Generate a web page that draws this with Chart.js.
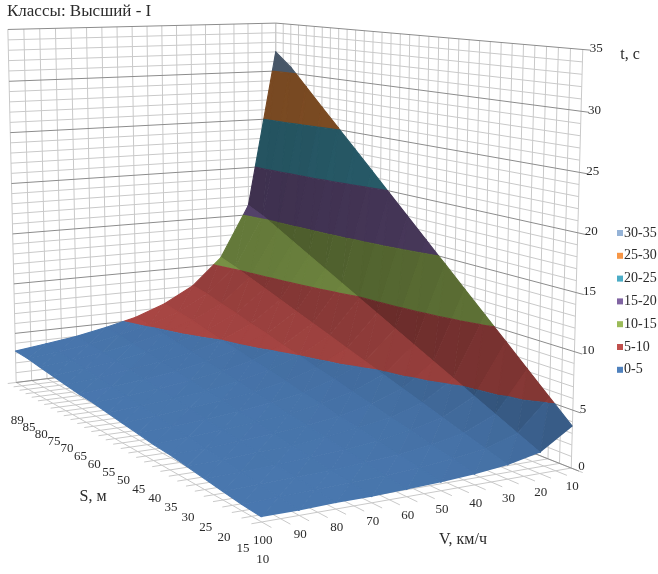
<!DOCTYPE html>
<html>
<head>
<meta charset="utf-8">
<script src="https://cdn.jsdelivr.net/npm/chart.js@4.4.1/dist/chart.umd.min.js"></script>
<style>
  html, body { margin: 0; padding: 0; background: #fff; }
  #wrap { width: 658px; height: 574px; }
</style>
</head>
<body>
<div id="wrap"><canvas id="surfaceChart" width="658" height="574"></canvas></div>
<script>
// S, м  (series, front to back)
const distances = [10, 15, 20, 25, 30, 35, 40, 45, 50, 55, 60, 65, 70, 75, 80, 85, 89];
// V, км/ч  (categories, front-left to right)
const speeds = [100, 90, 80, 70, 60, 50, 40, 30, 20, 10];
// t, с, one row per distance, columns follow speeds
const times = [
    [0.4, 0.4, 0.5, 0.5, 0.6, 0.7, 0.9, 1.2, 1.8, 3.6],
    [0.5, 0.6, 0.7, 0.8, 0.9, 1.1, 1.4, 1.8, 2.7, 5.4],
    [0.7, 0.8, 0.9, 1.0, 1.2, 1.4, 1.8, 2.4, 3.6, 7.2],
    [0.9, 1.0, 1.1, 1.3, 1.5, 1.8, 2.3, 3.0, 4.5, 9.0],
    [1.1, 1.2, 1.4, 1.5, 1.8, 2.2, 2.7, 3.6, 5.4, 10.8],
    [1.3, 1.4, 1.6, 1.8, 2.1, 2.5, 3.2, 4.2, 6.3, 12.6],
    [1.4, 1.6, 1.8, 2.1, 2.4, 2.9, 3.6, 4.8, 7.2, 14.4],
    [1.6, 1.8, 2.0, 2.3, 2.7, 3.2, 4.1, 5.4, 8.1, 16.2],
    [1.8, 2.0, 2.3, 2.6, 3.0, 3.6, 4.5, 6.0, 9.0, 18.0],
    [2.0, 2.2, 2.5, 2.8, 3.3, 4.0, 5.0, 6.6, 9.9, 19.8],
    [2.2, 2.4, 2.7, 3.1, 3.6, 4.3, 5.4, 7.2, 10.8, 21.6],
    [2.3, 2.6, 2.9, 3.3, 3.9, 4.7, 5.9, 7.8, 11.7, 23.4],
    [2.5, 2.8, 3.2, 3.6, 4.2, 5.0, 6.3, 8.4, 12.6, 25.2],
    [2.7, 3.0, 3.4, 3.9, 4.5, 5.4, 6.8, 9.0, 13.5, 27.0],
    [2.9, 3.2, 3.6, 4.1, 4.8, 5.8, 7.2, 9.6, 14.4, 28.8],
    [3.1, 3.4, 3.8, 4.4, 5.1, 6.1, 7.7, 10.2, 15.3, 30.6],
    [3.2, 3.6, 4.0, 4.6, 5.3, 6.4, 8.0, 10.7, 16.0, 32.0]
];
const timeTicks = [0, 5, 10, 15, 20, 25, 30, 35];
const bandLabels = ['0-5', '5-10', '10-15', '15-20', '20-25', '25-30', '30-35'];
const bandColors = ['#4F81BD', '#C0504D', '#9BBB59', '#8064A2', '#4BACC6', '#F79646', '#95B3D7'];

const tMax = timeTicks[timeTicks.length - 1];
const nS = distances.length, nV = speeds.length;
const uOf = i => i / (nS - 1);
const vOf = j => j / (nV - 1);

// where a few corners of the 3D box land on the page: [u, v, t, px, py]
const viewPoints = [
    [0, 0, 0, 261, 522],
    [0, 1, 0, 572, 468],
    [1, 0, 0, 15, 382],
    [1, 1, 35, 276, 23],
    [0, 1, 35, 583, 50],
    [1, 0, 35, 8, 29],
    [1, 1, 32, 275, 52],
    [1, 0, 3.2, 17, 352],
    [0, 1, 3.6, 572, 426]
];

// least squares fit of a 3D -> 2D perspective matrix
function fitView(pts) {
    const rows = [], rhs = [];
    pts.forEach(([u, v, t, x, y]) => {
        const z = t / tMax;
        rows.push([u, v, z, 1, 0, 0, 0, 0, -x * u, -x * v, -x * z]); rhs.push(x);
        rows.push([0, 0, 0, 0, u, v, z, 1, -y * u, -y * v, -y * z]); rhs.push(y);
    });
    const n = 11;
    const M = [];
    for (let i = 0; i < n; i++) {
        const row = new Array(n + 1).fill(0);
        for (let k = 0; k < rows.length; k++) {
            for (let j = 0; j < n; j++) row[j] += rows[k][i] * rows[k][j];
            row[n] += rows[k][i] * rhs[k];
        }
        M.push(row);
    }
    for (let c = 0; c < n; c++) {
        let p = c;
        for (let r = c + 1; r < n; r++) if (Math.abs(M[r][c]) > Math.abs(M[p][c])) p = r;
        [M[c], M[p]] = [M[p], M[c]];
        for (let r = 0; r < n; r++) {
            if (r === c) continue;
            const f = M[r][c] / M[c][c];
            for (let k = c; k <= n; k++) M[r][k] -= f * M[c][k];
        }
    }
    return M.map((row, i) => row[n] / row[i]);
}
const P = fitView(viewPoints);

function project(u, v, t) {
    const z = t / tMax;
    const w = P[8] * u + P[9] * v + P[10] * z + 1;
    return {
        x: (P[0] * u + P[1] * v + P[2] * z + P[3]) / w,
        y: (P[4] * u + P[5] * v + P[6] * z + P[7]) / w,
        w: w
    };
}

function clipHalf(poly, f) {
    const res = [];
    for (let k = 0; k < poly.length; k++) {
        const p = poly[k], q = poly[(k + 1) % poly.length];
        const fp = f(p), fq = f(q);
        if (fp >= 0) res.push(p);
        if ((fp >= 0) !== (fq >= 0)) {
            const s = fp / (fp - fq);
            res.push([p[0] + s * (q[0] - p[0]), p[1] + s * (q[1] - p[1]), p[2] + s * (q[2] - p[2])]);
        }
    }
    return res;
}

const light = [0.25, 0.3, 0.92];
function shadeOf(tri) {
    const [a, b, c] = tri.map(p => [p[0], p[1], p[2] / tMax]);
    const e1 = [b[0] - a[0], b[1] - a[1], b[2] - a[2]];
    const e2 = [c[0] - a[0], c[1] - a[1], c[2] - a[2]];
    let n = [e1[1] * e2[2] - e1[2] * e2[1], e1[2] * e2[0] - e1[0] * e2[2], e1[0] * e2[1] - e1[1] * e2[0]];
    if (n[2] < 0) n = n.map(x => -x);
    const len = Math.hypot(n[0], n[1], n[2]);
    const d = (n[0] * light[0] + n[1] * light[1] + n[2] * light[2]) / len;
    return Math.min(1, 0.53 + 0.44 * d);
}

function shaded(hex, s) {
    const r = parseInt(hex.slice(1, 3), 16), g = parseInt(hex.slice(3, 5), 16), b = parseInt(hex.slice(5, 7), 16);
    return `rgb(${Math.round(r * s)}, ${Math.round(g * s)}, ${Math.round(b * s)})`;
}

function toPoints(poly) {
    return poly.map(p => {
        const q = project(p[0], p[1], p[2]);
        return { x: q.x, y: q.y };
    });
}

// grid on the walls and the floor
const gridSets = [];
function addLine(a, b, color, width) {
    gridSets.push({
        data: toPoints([a, b]),
        borderColor: color,
        borderWidth: width,
        fill: false
    });
}
const minorColor = '#c9c9c9', majorColor = '#8c8c8c';
for (let t = 0; t <= tMax; t++) {
    const major = t % 5 === 0;
    const col = major ? majorColor : minorColor;
    addLine([1, 0, t], [1, 1, t], col, 1);
    addLine([1, 1, t], [major ? -0.02 : 0, 1, t], col, 1);
}
for (let k = 0; k <= (nV - 1) * 2; k++) {
    const v = k / ((nV - 1) * 2);
    addLine([1, v, 0], [1, v, tMax], minorColor, 1);
    addLine([-0.03, v, 0], [1, v, 0], minorColor, 1);
}
for (let k = 0; k <= (nS - 1) * 2; k++) {
    const u = k / ((nS - 1) * 2);
    addLine([u, 1, 0], [u, 1, tMax], minorColor, 1);
    addLine([u, -0.03, 0], [u, 1, 0], minorColor, 1);
}

// surface, split into triangles and coloured by band
const pieces = [];
for (let i = 0; i < nS - 1; i++) {
    for (let j = 0; j < nV - 1; j++) {
        const A = [uOf(i), vOf(j), times[i][j]];
        const B = [uOf(i + 1), vOf(j), times[i + 1][j]];
        const C = [uOf(i + 1), vOf(j + 1), times[i + 1][j + 1]];
        const D = [uOf(i), vOf(j + 1), times[i][j + 1]];
        [[A, B, C], [A, C, D]].forEach(tri => {
            const cu = (tri[0][0] + tri[1][0] + tri[2][0]) / 3;
            const cv = (tri[0][1] + tri[1][1] + tri[2][1]) / 3;
            const depth = project(cu, cv, 0).w;
            const s = shadeOf(tri);
            for (let k = 0; k < bandLabels.length; k++) {
                const lo = timeTicks[k], hi = timeTicks[k + 1];
                let poly = clipHalf(tri, p => p[2] - lo);
                poly = clipHalf(poly, p => hi - p[2]);
                if (poly.length < 3) continue;
                const col = shaded(bandColors[k], s);
                pieces.push({
                    depth: depth,
                    set: {
                        data: toPoints(poly),
                        borderColor: col,
                        backgroundColor: col,
                        borderWidth: 1.1,
                        borderJoinStyle: 'round',
                        fill: 'shape'
                    }
                });
            }
        });
    }
}
pieces.sort((a, b) => a.depth - b.depth); // nearest first, drawn last

const datasets = pieces.map(p => p.set).concat(gridSets);

const textPlugin = {
    id: 'surfaceText',
    afterDraw(chart) {
        const { ctx } = chart;
        const xs = chart.scales.x, ys = chart.scales.y;
        const at = (u, v, t) => {
            const q = project(u, v, t);
            return [xs.getPixelForValue(q.x), ys.getPixelForValue(q.y)];
        };
        ctx.save();
        ctx.fillStyle = '#2b2b2b';
        ctx.textBaseline = 'middle';
        ctx.textAlign = 'center';
        ctx.font = '13px "Liberation Serif"';
        speeds.forEach((sp, j) => {
            const [px, py] = at(0, vOf(j), 0);
            ctx.fillText(String(sp), px + 1, py + 19);
        });
        distances.forEach((d, i) => {
            const [px, py] = at(uOf(i), 0, 0);
            ctx.fillText(String(d), px + 1, py + 38);
        });
        ctx.textAlign = 'left';
        timeTicks.forEach(t => {
            const [px, py] = at(0, 1, t);
            ctx.fillText(String(t), px + 7, py - 1);
        });

        ctx.textAlign = 'center';
        ctx.font = '16px "Liberation Serif"';
        ctx.fillText('S, м', 93, 497);
        ctx.fillText('V, км/ч', 463, 540);
        ctx.fillText('t, с', 630, 55);

        ctx.textAlign = 'left';
        ctx.font = '17px "Liberation Serif"';
        ctx.fillText('Классы: Высший - I', 7, 12);

        ctx.font = '14px "Liberation Serif"';
        for (let k = bandLabels.length - 1; k >= 0; k--) {
            const y = 233 + (bandLabels.length - 1 - k) * 22.8;
            ctx.fillStyle = bandColors[k];
            ctx.fillRect(617, y - 3, 6, 6);
            ctx.fillStyle = '#2b2b2b';
            ctx.fillText(bandLabels[k], 624, y);
        }
        ctx.restore();
    }
};

new Chart(document.getElementById('surfaceChart'), {
    type: 'line',
    data: { datasets: datasets },
    options: {
        responsive: false,
        animation: false,
        events: [],
        layout: { padding: 0 },
        elements: {
            point: { radius: 0, hitRadius: 0 },
            line: { tension: 0 }
        },
        scales: {
            x: { type: 'linear', min: 0, max: 658, display: false },
            y: { type: 'linear', min: 0, max: 574, reverse: true, display: false }
        },
        plugins: {
            legend: { display: false },
            title: { display: false },
            tooltip: { enabled: false }
        }
    },
    plugins: [textPlugin]
});
</script>
</body>
</html>
